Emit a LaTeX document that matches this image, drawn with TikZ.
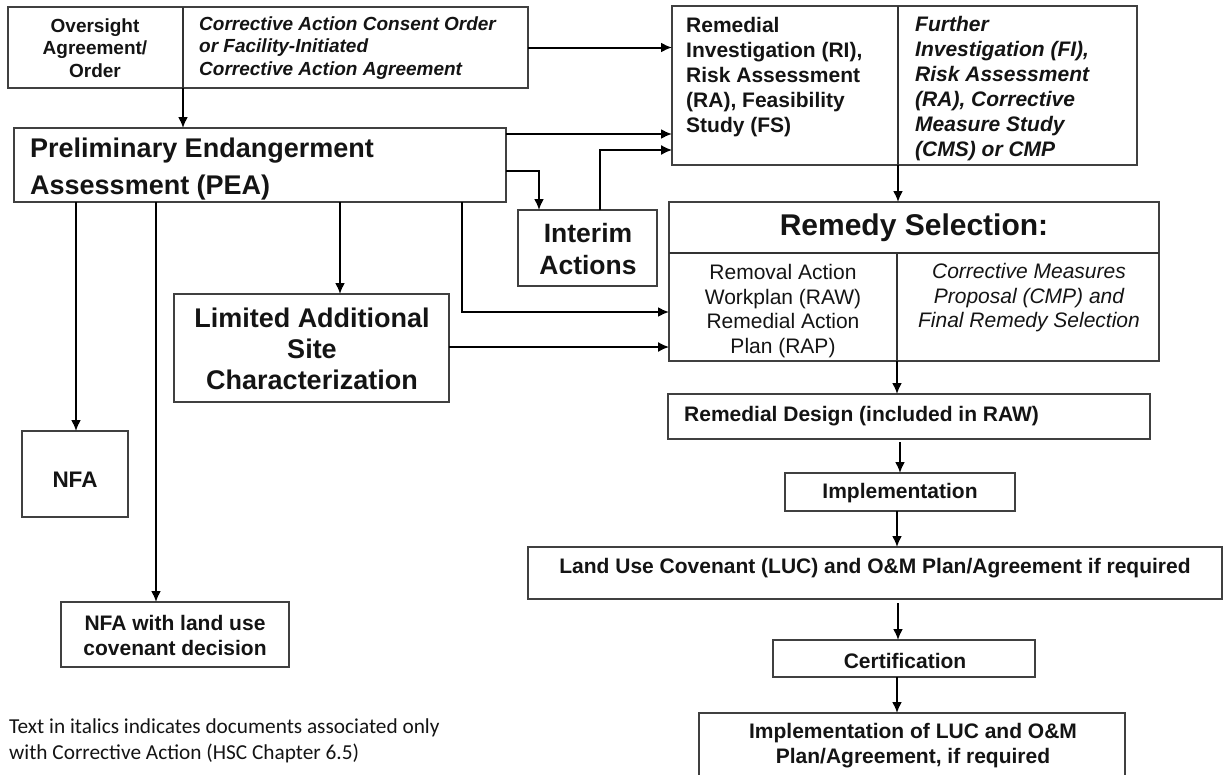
\documentclass[tikz,border=0pt]{standalone}
\usepackage{fontspec}
\setmainfont{Liberation Sans}
\newfontfamily\notefont{Carlito}
\usetikzlibrary{arrows.meta}

\begin{document}
\begin{tikzpicture}[x=1pt,y=-1pt,
  box/.style={draw=black!75, line width=1.3pt, inner sep=0pt, outer sep=0pt, anchor=north west},
  rule/.style={draw=black!80, line width=1.3pt},
  flow/.style={line width=2pt, -{Latex[length=11pt,width=10pt]}},
  thinflow/.style={line width=1.5pt, -{Latex[length=11pt,width=10pt]}},
  lbl/.style={inner sep=0pt, text=black!92},
]
\useasboundingbox (0,0) rectangle (1223,774);
\clip (0,0) rectangle (1223,774);

% ---------- boxes ----------
\node[box, minimum width=520, minimum height=81]  (top)     at (8,7) {};
\node[box, minimum width=492, minimum height=74]  (pea)     at (14,128) {};
\node[box, minimum width=465, minimum height=159] (ri)      at (672,6) {};
\node[box, minimum width=139, minimum height=76]  (interim) at (518,210) {};
\node[box, minimum width=490, minimum height=159] (remedy)  at (669,202) {};
\node[box, minimum width=275, minimum height=108] (limited) at (174,294) {};
\node[box, minimum width=106, minimum height=86]  (nfa)     at (22,431) {};
\node[box, minimum width=228, minimum height=65]  (nfaluc)  at (61,602) {};
\node[box, minimum width=482, minimum height=45]  (design)  at (668,394) {};
\node[box, minimum width=230, minimum height=38]  (impl)    at (785,473) {};
\node[box, minimum width=694, minimum height=52]  (luc)     at (528,547) {};
\node[box, minimum width=262, minimum height=37]  (cert)    at (773,640) {};
\node[box, minimum width=426, minimum height=80]  (final)   at (699,713) {};

% ---------- column and row rules inside boxes ----------
\coordinate (tdiv) at (183,0);
\coordinate (rdiv) at (898,0);
\coordinate (rmid) at (0,253);
\coordinate (rsdiv) at (897,0);
\draw[rule] (tdiv |- top.north) -- (tdiv |- top.south);
\draw[rule] (rdiv |- ri.north) -- (rdiv |- ri.south);
\draw[rule] (remedy.west |- rmid) -- (remedy.east |- rmid);
\draw[rule] (rsdiv |- rmid) -- (rsdiv |- remedy.south);

% ---------- texts ----------
\node[lbl, font=\bfseries\fontsize{19}{22.5}\selectfont, align=center] (tlt) at (95,48) {Oversight\\Agreement/\\Order};
\node[lbl, font=\bfseries\itshape\fontsize{19}{22.5}\selectfont, align=left, anchor=west] (trt) at (199,48)
  {Corrective Action Consent Order\\or Facility-Initiated\\Corrective Action Agreement};
\node[lbl, font=\bfseries\fontsize{27}{37}\selectfont, align=left, anchor=west] (peat) at (30,169)
  {Preliminary Endangerment\\Assessment (PEA)};
\node[lbl, font=\bfseries\fontsize{21}{25}\selectfont, align=left, anchor=west] (rit) at (686,77)
  {Remedial\\Investigation (RI),\\Risk Assessment\\(RA), Feasibility\\Study (FS)};
\node[lbl, font=\bfseries\itshape\fontsize{21}{25}\selectfont, align=left, anchor=west] (fit) at (915,89)
  {Further\\Investigation (FI),\\Risk Assessment\\(RA), Corrective\\Measure Study\\(CMS) or CMP};
\node[lbl, font=\bfseries\fontsize{26.5}{32}\selectfont, align=center] (intt) at (588,249) {Interim\\Actions};
\node[lbl, font=\bfseries\fontsize{30}{36}\selectfont] (rst) at (914,228) {Remedy Selection:};
\node[lbl, font=\fontsize{21}{24.5}\selectfont, align=center] (rawt) at (783,311)
  {Removal Action\\Workplan (RAW)\\Remedial Action\\Plan (RAP)};
\node[lbl, font=\itshape\fontsize{21}{24.5}\selectfont, align=center] (cmpt) at (1029,298)
  {Corrective Measures\\Proposal (CMP) and\\Final Remedy Selection};
\node[lbl, font=\bfseries\fontsize{27}{31}\selectfont, align=center] (limt) at (312,349)
  {Limited Additional\\Site\\Characterization};
\node[lbl, font=\bfseries\fontsize{22.5}{27}\selectfont] (nfat) at (75,480) {NFA};
\node[lbl, font=\bfseries\fontsize{21}{25}\selectfont, align=center] (nflt) at (175,635)
  {NFA with land use\\covenant decision};
\node[lbl, font=\bfseries\fontsize{21}{25}\selectfont, anchor=west] (dest) at (684,416) {Remedial Design (included in RAW)};
\node[lbl, font=\bfseries\fontsize{21}{25}\selectfont] (impt) at (900,493) {Implementation};
\node[lbl, font=\bfseries\fontsize{21}{25}\selectfont] (luct) at (875,568)
  {Land Use Covenant (LUC) and O\&M Plan/Agreement if required};
\node[lbl, font=\bfseries\fontsize{21}{25}\selectfont] (certt) at (905,661) {Certification};
\node[lbl, font=\bfseries\fontsize{21}{25}\selectfont, align=center] (fint) at (913,746)
  {Implementation of LUC and O\&M\\Plan/Agreement, if required};
\node[lbl, font=\notefont\fontsize{21.3}{26}\selectfont, align=left, anchor=west] (note) at (9,741)
  {Text in italics indicates documents associated only\\with Corrective Action (HSC Chapter 6.5)};

% ---------- connectors ----------
\coordinate (bIntA) at (539,171);
\coordinate (bIntB) at (600,150);
\coordinate (bRI)   at (0,134);
\coordinate (bLim)  at (340,0);
\coordinate (bRem)  at (462,312);
\coordinate (bLR)   at (0,347);
\coordinate (bNL)   at (156,0);
\coordinate (bNFA)  at (76,0);
\coordinate (cx)    at (900,0);

\draw[flow] (tdiv |- top.south) -- (tdiv |- pea.north);
\draw[flow] (top.east) -- (top.east -| ri.west);
\draw[flow] (pea.east |- bRI) -- (ri.west |- bRI);
\draw[flow] (pea.east |- bIntA) -| (interim.north -| bIntA);
\draw[thinflow] (interim.north -| bIntB) |- (ri.west |- bIntB);
\draw[flow] (pea.south -| bLim) -- (limited.north -| bLim);
\draw[flow] (pea.south -| bRem) |- (remedy.west |- bRem);
\draw[thinflow] (limited.east |- bLR) -- (remedy.west |- bLR);
\draw[flow] (pea.south -| bNFA) -- (nfa.north -| bNFA);
\draw[flow] (pea.south -| bNL) -- (nfaluc.north -| bNL);
\draw[flow] (ri.south -| rdiv) -- (remedy.north -| rdiv);
\draw[flow] (remedy.south -| rsdiv) -- (design.north -| rsdiv);
\draw[flow] ([yshift=-3pt]design.south -| cx) -- (impl.north -| cx);
\draw[flow] (impl.south -| rsdiv) -- (luc.north -| rsdiv);
\draw[flow] ([yshift=-4pt]luc.south -| rdiv) -- (cert.north -| rdiv);
\draw[flow] (cert.south -| rsdiv) -- (final.north -| rsdiv);
\end{tikzpicture}
\end{document}
